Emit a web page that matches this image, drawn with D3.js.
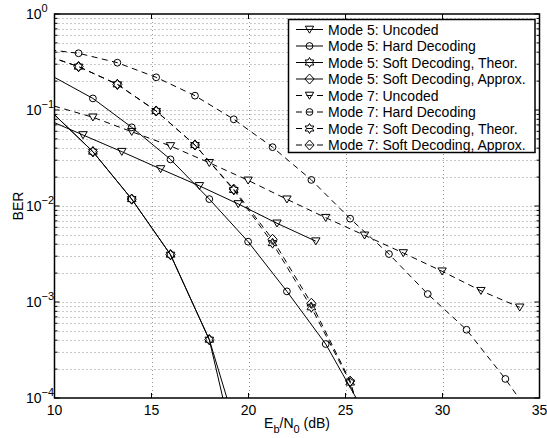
<!DOCTYPE html>
<html>
<head>
<meta charset="utf-8">
<script src="https://cdn.jsdelivr.net/npm/d3@7"></script>
<style>
  body { margin: 0; background: #fff; }
  svg { display: block; font-family: "Liberation Sans", Arial, Helvetica, sans-serif; }
</style>
</head>
<body>
<script>
//-----------------Data----------------

const xTicks = [10, 15, 20, 25, 30, 35];
const yExps = [0, -1, -2, -3, -4];

const m5UncodedX = [9.47, 11.47, 13.47, 15.47, 17.47, 19.47, 21.47, 23.47];
const m5UncodedY = [0.082, 0.0549, 0.0368, 0.0243, 0.0162, 0.0105, 0.0066, 0.0043];

const m5HardX = [9.98, 11.98, 13.98, 15.98, 17.98, 19.98, 21.98, 23.98, 25.98];
const m5HardY = [0.22, 0.132, 0.066, 0.0306, 0.0118, 0.00425, 0.00129, 0.000365, 0.00007];

const m5SoftX = [9.98, 11.98, 13.98, 15.98, 17.98, 19.98];
const m5SoftTheorY = [0.09, 0.0368, 0.0118, 0.00311, 0.000405, 0.0000074];
const m5SoftApproxY = [0.09, 0.0368, 0.0118, 0.00311, 0.000405, 0.0000186];

const m7UncodedX = [9.98, 11.98, 13.98, 15.98, 17.98, 19.98, 21.98, 23.98, 25.98, 27.98, 29.98, 31.98, 33.98];
const m7UncodedY = [0.11, 0.084, 0.0594, 0.0422, 0.0282, 0.0185, 0.01175, 0.00755, 0.00495, 0.00324, 0.00209, 0.00131, 0.00088];

const m7HardX = [9.24, 11.24, 13.24, 15.24, 17.24, 19.24, 21.24, 23.24, 25.24, 27.24, 29.24, 31.24, 33.24, 35.24];
const m7HardY = [0.435, 0.39, 0.311, 0.219, 0.141, 0.08, 0.041, 0.0187, 0.00738, 0.00316, 0.00121, 0.000514, 0.000158, 0.000042];

const m7SoftX = [9.24, 11.24, 13.24, 15.24, 17.24, 19.24, 21.24, 23.24, 25.24, 27.24];
const m7SoftTheorY = [0.39, 0.283, 0.185, 0.0977, 0.0432, 0.0147, 0.0041, 0.00088, 0.000145, 0.000006];
const m7SoftApproxY = [0.39, 0.283, 0.185, 0.0977, 0.0432, 0.015, 0.0045, 0.00097, 0.00015, 0.0000065];

const seriesNames = [
  "Mode 5: Uncoded",
  "Mode 5: Hard Decoding",
  "Mode 5: Soft Decoding, Theor.",
  "Mode 5: Soft Decoding, Approx.",
  "Mode 7: Uncoded",
  "Mode 7: Hard Decoding",
  "Mode 7: Soft Decoding, Theor.",
  "Mode 7: Soft Decoding, Approx."
];

const series = [
  { x: m5UncodedX, y: m5UncodedY, marker: "tri", dashed: false },
  { x: m5HardX, y: m5HardY, marker: "circle", dashed: false },
  { x: m5SoftX, y: m5SoftTheorY, marker: "hex", dashed: false },
  { x: m5SoftX, y: m5SoftApproxY, marker: "diamond", dashed: false },
  { x: m7UncodedX, y: m7UncodedY, marker: "tri", dashed: true },
  { x: m7HardX, y: m7HardY, marker: "circle", dashed: true },
  { x: m7SoftX, y: m7SoftTheorY, marker: "hex", dashed: true },
  { x: m7SoftX, y: m7SoftApproxY, marker: "diamond", dashed: true }
].map((s, i) => ({ ...s, name: seriesNames[i], points: s.x.map((x, j) => [x, s.y[j]]) }));

//-----------------Main svg ------------------

const width = 547;
const height = 438;
const plotLeft = 54.5, plotRight = 539.5, plotTop = 14, plotBottom = 398;
const dash = "6,4.5";

const svg = d3.select("body").append("svg").attr("width", width).attr("height", height);

const xScale = d3.scaleLinear().domain([10, 35]).range([plotLeft, plotRight]);
const yScale = d3.scaleLog().domain([1e-4, 1]).range([plotBottom, plotTop]);

svg.append("defs").append("clipPath").attr("id", "plot-clip")
  .append("rect").attr("x", plotLeft).attr("y", plotTop)
  .attr("width", plotRight - plotLeft).attr("height", plotBottom - plotTop);

//-------------Grid----------------

const minorY = [];
yExps.slice(0, -1).forEach((e) => {
  for (let k = 2; k <= 9; k++) minorY.push(k * Math.pow(10, e - 1));
});
const majorY = yExps.map((e) => Math.pow(10, e));

const grid = svg.append("g").attr("stroke", "#777").attr("stroke-width", 0.8).attr("stroke-dasharray", "1,3");

grid.selectAll("line.hy")
  .data(minorY.concat(majorY.slice(1, -1)))
  .enter()
  .append("line")
  .attr("x1", plotLeft).attr("x2", plotRight)
  .attr("y1", (d) => Math.round(yScale(d)) + 0.5)
  .attr("y2", (d) => Math.round(yScale(d)) + 0.5);

grid.selectAll("line.vx")
  .data(xTicks.slice(1, -1))
  .enter()
  .append("line")
  .attr("x1", (d) => Math.round(xScale(d)) + 0.5)
  .attr("x2", (d) => Math.round(xScale(d)) + 0.5)
  .attr("y1", plotTop).attr("y2", plotBottom);

//-------------Markers----------------

function markerPath(type) {
  if (type === "tri") return "M-4.2,-3.3L4.2,-3.3L0,3.7Z";
  if (type === "circle") return "M3.4,0A3.4,3.4 0 1,1 -3.4,0A3.4,3.4 0 1,1 3.4,0Z";
  if (type === "diamond") return "M0,-5L4.6,0L0,5L-4.6,0Z";
  // hexagram
  const pts = [];
  for (let i = 0; i < 12; i++) {
    const r = i % 2 === 0 ? 5 : 2.9;
    const a = (Math.PI / 6) * i - Math.PI / 2;
    pts.push([r * Math.cos(a), r * Math.sin(a)]);
  }
  return "M" + pts.map((p) => p[0].toFixed(2) + "," + p[1].toFixed(2)).join("L") + "Z";
}

//-------------Curves----------------

const line = d3.line().x((d) => xScale(d[0])).y((d) => yScale(d[1]));

const plot = svg.append("g").attr("clip-path", "url(#plot-clip)");

series.forEach((s) => {
  plot.append("path")
    .attr("d", line(s.points))
    .attr("fill", "none")
    .attr("stroke", "#000")
    .attr("stroke-width", 1)
    .attr("stroke-dasharray", s.dashed ? dash : null);

  plot.selectAll(null)
    .data(s.points.filter((d) => d[0] >= 10 && d[0] <= 35 && d[1] >= 1e-4 && d[1] <= 1))
    .enter()
    .append("path")
    .attr("d", markerPath(s.marker))
    .attr("transform", (d) => "translate(" + xScale(d[0]) + "," + yScale(d[1]) + ")")
    .attr("fill", "none")
    .attr("stroke", "#000")
    .attr("stroke-width", 1);
});

//------------Axis frame and ticks----------------

svg.append("rect")
  .attr("x", plotLeft).attr("y", plotTop)
  .attr("width", plotRight - plotLeft).attr("height", plotBottom - plotTop)
  .attr("fill", "none").attr("stroke", "#000").attr("stroke-width", 1.5);

const ticks = svg.append("g").attr("stroke", "#000").attr("stroke-width", 1);

xTicks.forEach((t) => {
  const x = xScale(t);
  ticks.append("line").attr("x1", x).attr("x2", x).attr("y1", plotBottom).attr("y2", plotBottom - 5);
  ticks.append("line").attr("x1", x).attr("x2", x).attr("y1", plotTop).attr("y2", plotTop + 5);
});

majorY.forEach((v) => {
  const y = yScale(v);
  ticks.append("line").attr("x1", plotLeft).attr("x2", plotLeft + 5).attr("y1", y).attr("y2", y);
  ticks.append("line").attr("x1", plotRight).attr("x2", plotRight - 5).attr("y1", y).attr("y2", y);
});

minorY.forEach((v) => {
  const y = yScale(v);
  ticks.append("line").attr("x1", plotLeft).attr("x2", plotLeft + 3).attr("y1", y).attr("y2", y);
  ticks.append("line").attr("x1", plotRight).attr("x2", plotRight - 3).attr("y1", y).attr("y2", y);
});

//------------Tick labels----------------

svg.selectAll("text.xtick")
  .data(xTicks)
  .enter()
  .append("text")
  .attr("x", (d) => xScale(d))
  .attr("y", plotBottom + 17)
  .attr("font-size", 14)
  .style("text-anchor", "middle")
  .text((d) => d);

const yLabels = svg.selectAll("text.ytick")
  .data(yExps)
  .enter()
  .append("text")
  .attr("x", 26)
  .attr("y", (d) => yScale(Math.pow(10, d)) + 5)
  .attr("font-size", 14);

yLabels.append("tspan").text("10");
yLabels.append("tspan")
  .attr("font-size", 11)
  .attr("dy", -7)
  .text((d) => (d < 0 ? "\u2212" + -d : d));

//------------Axis titles----------------

const xTitle = svg.append("text")
  .attr("x", (plotLeft + plotRight) / 2)
  .attr("y", 427.5)
  .attr("font-size", 14)
  .style("text-anchor", "middle");
xTitle.append("tspan").text("E");
xTitle.append("tspan").attr("font-size", 11).attr("dy", 5).text("b");
xTitle.append("tspan").attr("dy", -5).text("/N");
xTitle.append("tspan").attr("font-size", 11).attr("dy", 5).text("0");
xTitle.append("tspan").attr("dy", -5).text(" (dB)");

svg.append("text")
  .text("BER")
  .attr("font-size", 14)
  .attr("transform", "translate(22.5," + (plotTop + plotBottom) / 2 + ") rotate(-90)")
  .style("text-anchor", "middle");

//-----------Legend--------------

const legend = svg.append("g").attr("id", "legend");

legend.append("rect")
  .attr("x", 288.5).attr("y", 19.5)
  .attr("width", 246.5).attr("height", 133)
  .attr("fill", "#fff").attr("stroke", "#000").attr("stroke-width", 1.5);

series.forEach((s, i) => {
  const y = 29.5 + i * 16.5;
  const row = legend.append("g");
  row.append("line")
    .attr("x1", 296).attr("x2", 323).attr("y1", y).attr("y2", y)
    .attr("stroke", "#000").attr("stroke-width", 1)
    .attr("stroke-dasharray", s.dashed ? dash : null);
  row.append("path")
    .attr("d", markerPath(s.marker))
    .attr("transform", "translate(309.5," + y + ")")
    .attr("fill", "none").attr("stroke", "#000").attr("stroke-width", 1);
  row.append("text")
    .attr("x", 328).attr("y", y + 5)
    .attr("font-size", 14)
    .text(s.name);
});
</script>
</body>
</html>
